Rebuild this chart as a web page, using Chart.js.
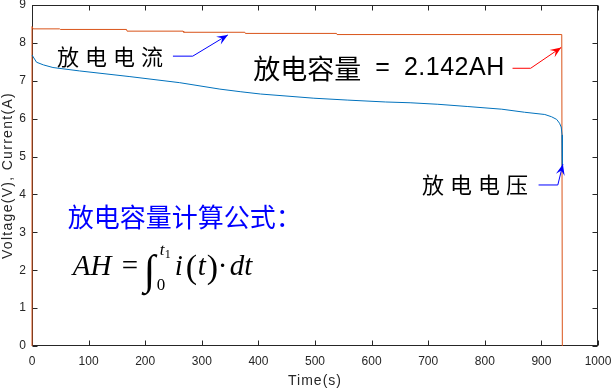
<!DOCTYPE html>
<html>
<head>
<meta charset="utf-8">
<script src="https://cdn.jsdelivr.net/npm/chart.js"></script>
<style>
  html, body { margin: 0; padding: 0; background: #fff; }
</style>
</head>
<body>
<canvas id="chart" width="613" height="390"></canvas>
<script>
// discharge data
const timeV = [0, 8, 20, 37, 84, 173, 261, 332, 369, 404, 447, 498, 558, 625, 668, 717, 770, 830, 870, 906, 918, 927, 932, 935, 936.5, 937];
const voltage = [7.68, 7.49, 7.42, 7.35, 7.26, 7.11, 6.95, 6.78, 6.71, 6.65, 6.60, 6.54, 6.49, 6.44, 6.42, 6.38, 6.32, 6.25, 6.17, 6.11, 6.05, 5.98, 5.88, 5.78, 5.57, 4.70];

const timeI = [0, 0, 2, 49, 50, 167, 168, 267, 268, 376, 377, 538, 539, 936, 937];
const current = [0, 8.43, 8.37, 8.37, 8.355, 8.355, 8.31, 8.31, 8.28, 8.28, 8.25, 8.25, 8.22, 8.22, 0];

const xTicks = [0, 100, 200, 300, 400, 500, 600, 700, 800, 900, 1000];
const yTicks = [0, 1, 2, 3, 4, 5, 6, 7, 8, 9];

const xTitle = "Time(s)";
const yTitle = "Voltage(V), Current(A)";

const axisColor = "#262626";
const sans = "'Liberation Sans', Arial, sans-serif";
const tickFont = { family: sans, size: 12 };

const toPoints = (xs, ys) => xs.map((x, i) => ({ x: x, y: ys[i] }));

// arrow paths in data units (time, value)
const arrowCurrent = [[249, 7.65], [284, 7.65], [346, 8.21]];
const arrowCapacity = [[849, 7.33], [881, 7.33], [935, 7.88]];
const arrowVoltage = [[895, 4.25], [929, 4.25], [938, 4.80]];

function drawArrow(ctx, pts, color) {
    ctx.save();
    ctx.strokeStyle = color;
    ctx.fillStyle = color;
    ctx.lineWidth = 1;
    ctx.beginPath();
    pts.forEach((p, i) => i ? ctx.lineTo(p[0], p[1]) : ctx.moveTo(p[0], p[1]));
    ctx.stroke();
    const a = pts[pts.length - 2], b = pts[pts.length - 1];
    const dx = b[0] - a[0], dy = b[1] - a[1];
    const len = Math.hypot(dx, dy), ux = dx / len, uy = dy / len;
    const L = 11, W = 4.5;
    ctx.beginPath();
    ctx.moveTo(b[0], b[1]);
    ctx.lineTo(b[0] - L * ux - W * uy, b[1] - L * uy + W * ux);
    ctx.lineTo(b[0] - 0.6 * L * ux, b[1] - 0.6 * L * uy);
    ctx.lineTo(b[0] - L * ux + W * uy, b[1] - L * uy - W * ux);
    ctx.closePath();
    ctx.fill();
    ctx.restore();
}

// box + inward ticks like matlab axes, plus axis titles
const boxPlugin = {
    id: "box",
    beforeDatasetsDraw(chart) {
        const { ctx, chartArea: a, scales } = chart;
        const l = Math.round(a.left) + 0.5, r = Math.round(a.right) - 0.5;
        const t = Math.round(a.top) + 0.5, b = Math.round(a.bottom) - 0.5;
        ctx.save();
        ctx.strokeStyle = axisColor;
        ctx.lineWidth = 1;
        ctx.strokeRect(l, t, r - l, b - t);
        ctx.beginPath();
        xTicks.forEach(v => {
            const px = Math.round(scales.x.getPixelForValue(v)) + 0.5;
            ctx.moveTo(px, b); ctx.lineTo(px, b - 5);
            ctx.moveTo(px, t); ctx.lineTo(px, t + 5);
        });
        yTicks.forEach(v => {
            const py = Math.round(scales.y.getPixelForValue(v)) + 0.5;
            ctx.moveTo(l, py); ctx.lineTo(l + 5, py);
            ctx.moveTo(r, py); ctx.lineTo(r - 5, py);
        });
        ctx.stroke();

        ctx.fillStyle = axisColor;
        ctx.font = "14px " + sans;
        ctx.letterSpacing = "1px";
        ctx.textAlign = "center";
        ctx.textBaseline = "middle";
        ctx.fillText(xTitle, (a.left + a.right) / 2, chart.height - 9);
        ctx.translate(8, (a.top + a.bottom) / 2);
        ctx.rotate(-Math.PI / 2);
        ctx.letterSpacing = "1.3px";
        ctx.fillText(yTitle, 0, 0);
        ctx.restore();
    }
};

const notesPlugin = {
    id: "notes",
    afterDraw(chart) {
        const { ctx, scales } = chart;
        const at = (p) => [scales.x.getPixelForValue(p[0]), scales.y.getPixelForValue(p[1])];

        drawArrow(ctx, arrowCurrent.map(at), "#0000FF");
        drawArrow(ctx, arrowCapacity.map(at), "#FF0000");
        drawArrow(ctx, arrowVoltage.map(at), "#0000FF");

        ctx.save();
        ctx.textBaseline = "middle";
        ctx.fillStyle = "#000";

        // 放电电流
        let p = at([44, 7.63]);
        ctx.font = "22px 'Noto Sans CJK SC'";
        ctx.letterSpacing = "6px";
        ctx.fillText("放电电流", p[0], p[1]);

        // 放电电压
        p = at([689, 4.27]);
        ctx.fillText("放电电压", p[0], p[1]);
        ctx.letterSpacing = "0px";

        // 放电容量 = 2.142AH
        p = at([391, 7.33]);
        let x = p[0];
        ctx.font = "27px 'Noto Sans CJK SC'";
        ctx.fillText("放电容量", x, p[1]);
        x += ctx.measureText("放电容量").width + 14;
        ctx.font = "25px " + sans;
        ctx.fillText("=", x, p[1]);
        x += ctx.measureText("=").width + 14;
        ctx.letterSpacing = "0.5px";
        ctx.fillText("2.142AH", x, p[1]);
        ctx.letterSpacing = "0px";

        // 公式标题
        p = at([63, 3.40]);
        ctx.fillStyle = "#0000FF";
        ctx.font = "26px 'Noto Sans CJK SC'";
        ctx.fillText("放电容量计算公式：", p[0], p[1]);

        // AH = ∫0^t1 i(t)·dt
        p = at([72, 1.87]);
        const fx = p[0], fy = p[1];
        const serif = "'Liberation Serif', 'Times New Roman', serif";
        ctx.fillStyle = "#000";
        ctx.textBaseline = "alphabetic";
        ctx.font = "italic 29px " + serif;
        ctx.fillText("AH", fx, fy);
        ctx.font = "29px " + serif;
        ctx.fillText("=", fx + 49, fy);
        ctx.font = "italic 42px " + serif;
        ctx.fillText("\u222B", fx + 71, fy + 9);
        ctx.font = "italic 17px " + serif;
        ctx.fillText("t", fx + 87, fy - 20);
        ctx.font = "12px " + serif;
        ctx.fillText("1", fx + 92, fy - 17);
        ctx.font = "17px " + serif;
        ctx.fillText("0", fx + 84, fy + 15);
        ctx.font = "italic 29px " + serif;
        ctx.fillText("i", fx + 102, fy);
        ctx.font = "34px " + serif;
        ctx.fillText("(", fx + 113, fy + 3);
        ctx.font = "italic 29px " + serif;
        ctx.fillText("t", fx + 125, fy);
        ctx.font = "34px " + serif;
        ctx.fillText(")", fx + 134, fy + 3);
        ctx.font = "29px " + serif;
        ctx.fillText("\u00B7", fx + 145, fy);
        ctx.font = "italic 29px " + serif;
        ctx.fillText("dt", fx + 157, fy);
        ctx.restore();
    }
};

// drop the label overflow padding chart.js adds, the layout padding handles it
const noLabelPadding = s => {
    s.paddingLeft = 0; s.paddingRight = 0;
    s.paddingTop = 0; s.paddingBottom = 0;
};

new Chart(document.getElementById("chart"), {
    type: "line",
    data: {
        datasets: [
            {
                label: "Voltage",
                data: toPoints(timeV, voltage),
                borderColor: "#0072BD",
                borderWidth: 1,
                pointRadius: 0,
                tension: 0,
                clip: false
            },
            {
                label: "Current",
                data: toPoints(timeI, current),
                borderColor: "#D95319",
                borderWidth: 1,
                pointRadius: 0,
                tension: 0,
                clip: false
            }
        ]
    },
    options: {
        responsive: false,
        animation: false,
        layout: { padding: { top: 5, right: 15, left: 0, bottom: 0 } },
        plugins: {
            legend: { display: false },
            tooltip: { enabled: false }
        },
        scales: {
            x: {
                type: "linear",
                min: 0,
                max: 1000,
                afterBuildTicks: s => { s.ticks = xTicks.map(v => ({ value: v })); },
                afterFit: s => { s.height = 44; noLabelPadding(s); },
                grid: { display: false, drawTicks: false },
                border: { display: false },
                ticks: { font: tickFont, color: axisColor, padding: 8, maxRotation: 0, autoSkip: false, callback: v => String(v) }
            },
            y: {
                type: "linear",
                min: 0,
                max: 9,
                afterBuildTicks: s => { s.ticks = yTicks.map(v => ({ value: v })); },
                afterFit: s => { s.width = 32; noLabelPadding(s); },
                grid: { display: false, drawTicks: false },
                border: { display: false },
                ticks: { font: tickFont, color: axisColor, padding: 6, callback: v => String(v) }
            }
        }
    },
    plugins: [boxPlugin, notesPlugin]
});
</script>
</body>
</html>
